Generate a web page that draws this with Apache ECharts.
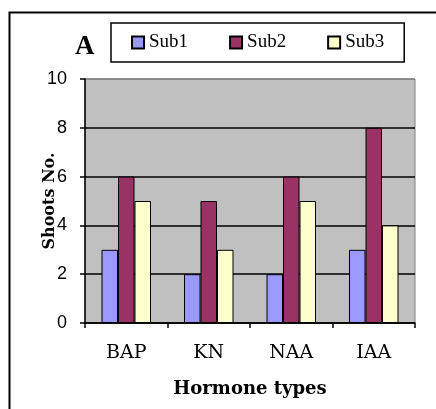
<!DOCTYPE html>
<html>
<head>
<meta charset="utf-8">
<script src="https://cdn.jsdelivr.net/npm/echarts@6/dist/echarts.min.js"></script>
<style>
  html, body { margin: 0; padding: 0; background: #fff; }
  #chart { width: 436px; height: 409px; }
</style>
</head>
<body>
<div id="chart"></div>
<script>
// Shoot counts per hormone treatment, three subcultures
const categories = ['BAP', 'KN', 'NAA', 'IAA'];
const sub1 = [3, 2, 2, 3];
const sub2 = [6, 5, 6, 8];
const sub3 = [5, 3, 5, 4];
const seriesNames = ['Sub1', 'Sub2', 'Sub3'];
const seriesColors = ['#9999FF', '#993366', '#FFFFCC'];
const yTicks = { min: 0, max: 10, interval: 2 };

const chart = echarts.init(document.getElementById('chart'), null, { renderer: 'canvas' });

const makeBar = (name, data, color) => ({
  name: name,
  type: 'bar',
  data: data,
  barGap: '0%',
  barCategoryGap: '40%',
  itemStyle: { color: color, borderColor: '#000', borderWidth: 1 },
  emphasis: { disabled: true }
});

chart.setOption({
  animation: false,
  backgroundColor: '#fff',
  grid: {
    left: 85, right: 21, top: 79, bottom: 86,
    show: true,
    backgroundColor: '#C0C0C0',
    borderColor: '#808080',
    borderWidth: 1
  },
  legend: {
    data: seriesNames,
    left: 111, top: 23,
    width: 293,
    padding: [10, 20, 10, 20],
    itemWidth: 12, itemHeight: 12,
    itemGap: 41,
    icon: 'rect',
    borderColor: '#000', borderWidth: 1.5,
    textStyle: { fontFamily: 'Liberation Serif', fontSize: 19, color: '#000' }
  },
  graphic: [
    {
      type: 'rect',
      shape: { x: 9.5, y: 12.5, width: 450, height: 420 },
      style: { fill: 'none', stroke: '#000', lineWidth: 2 },
      silent: true
    },
    {
      type: 'text',
      left: 75, top: 34,
      style: { text: 'A', font: 'bold 27px "Liberation Serif"', fill: '#000' },
      silent: true
    }
  ],
  xAxis: {
    type: 'category',
    data: categories,
    name: 'Hormone types',
    nameLocation: 'middle',
    nameGap: 57,
    nameTextStyle: { fontFamily: 'DejaVu Serif', fontWeight: 'bold', fontSize: 18, color: '#000' },
    axisLine: { lineStyle: { color: '#000', width: 1.5 } },
    axisTick: { show: true, length: 5, lineStyle: { color: '#000', width: 1.5 } },
    axisLabel: { margin: 21, fontFamily: 'DejaVu Serif', fontSize: 19, color: '#000' },
    splitLine: { show: false }
  },
  yAxis: {
    type: 'value',
    min: yTicks.min, max: yTicks.max, interval: yTicks.interval,
    name: 'Shoots No.',
    nameLocation: 'middle',
    nameGap: 27,
    nameMoveOverlap: false,
    nameTextStyle: { fontFamily: 'DejaVu Serif', fontWeight: 'bold', fontSize: 16, color: '#000' },
    axisLine: { show: true, lineStyle: { color: '#000', width: 1.5 } },
    axisTick: { show: true, length: 5, lineStyle: { color: '#000', width: 1.5 } },
    axisLabel: { margin: 18, fontFamily: 'Liberation Sans', fontSize: 18, color: '#000' },
    splitLine: { show: true, lineStyle: { color: ['#000', '#000', '#000', '#000', '#000', '#808080'], width: 1.5 } }
  },
  series: [
    makeBar(seriesNames[0], sub1, seriesColors[0]),
    makeBar(seriesNames[1], sub2, seriesColors[1]),
    makeBar(seriesNames[2], sub3, seriesColors[2])
  ]
});
</script>
</body>
</html>
